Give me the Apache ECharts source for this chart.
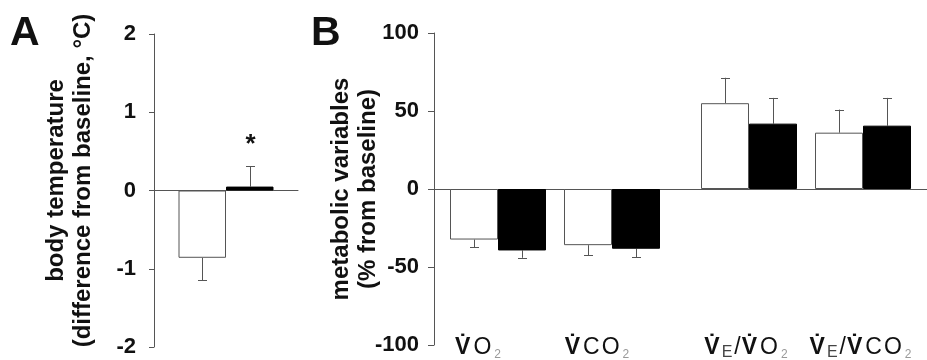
<!DOCTYPE html>
<html><head><meta charset="utf-8">
<script src="https://cdn.jsdelivr.net/npm/echarts@6/dist/echarts.min.js"></script>
<style>html,body{margin:0;padding:0;background:#fff}#c{width:927px;height:360px}</style>
</head><body><div id="c"></div>
<script>
// ---- Data ----
const tempCategories = ['body temperature'];
const tempWhite = [-0.86];
const tempWhiteErr = [0.29];
const tempBlack = [0.05];
const tempBlackErr = [0.26];
const tempSignif = ['*'];           // marker above black bar
const tempTicks = [-2, -1, 0, 1, 2];

const metabCategories = ['VO2', 'VCO2', 'VE/VO2', 'VE/VCO2'];
const metabWhite = [-32.4, -36.0, 55.0, 36.1];
const metabWhiteErr = [5.0, 6.6, 16.3, 14.8];
const metabBlack = [-39.4, -38.3, 41.9, 40.6];
const metabBlackErr = [4.7, 5.6, 16.5, 17.8];
const metabTicks = [-100, -50, 0, 50, 100];

// ---- Styles ----
const FONT = 'Liberation Sans, Arial, sans-serif';
const AX = '#555';
const TXT = '#111';

function richLabel(name) {
  let out = '';
  for (let k = 0; k < name.length; k++) {
    const ch = name[k];
    if (ch === 'V') out += '{v|V\u0307}';
    else if (ch === 'E') out += '{e|E}';
    else if (ch === '2') out += '{s|2}';
    else out += '{n|' + ch + '}';
  }
  return out;
}
const labelPad = { 'VO2': 40, 'VCO2': 30, 'VE/VO2': 6, 'VE/VCO2': 5 };

function errSeries(xIdx, yIdx, means, errs, offset, signif) {
  return {
    type: 'custom', xAxisIndex: xIdx, yAxisIndex: yIdx, z: 1, silent: true,
    data: means.map((m, i) => [i, m, errs[i]]),
    encode: { x: 0, y: 1 },
    renderItem: function (params, api) {
      const i = api.value(0), m = api.value(1), e = api.value(2);
      const dir = m < 0 ? -1 : 1;
      const p0 = api.coord([i, m]);
      const p1 = api.coord([i, m + dir * e]);
      const x = Math.round(p0[0] + offset) + 0.5;
      const cap = 4.5;
      const children = [
        { type: 'line', shape: { x1: x, y1: p0[1], x2: x, y2: p1[1] }, style: { stroke: AX, lineWidth: 1 } },
        { type: 'line', shape: { x1: x - cap, y1: Math.round(p1[1]) + 0.5, x2: x + cap, y2: Math.round(p1[1]) + 0.5 }, style: { stroke: AX, lineWidth: 1 } }
      ];
      if (signif && signif[i]) {
        children.push({ type: 'text', x: x, y: p1[1] - 21, style: { text: signif[i], font: 'bold 26px ' + FONT, fill: TXT, align: 'center', verticalAlign: 'middle' } });
      }
      return { type: 'group', children: children };
    }
  };
}

const yLabel = { fontFamily: FONT, fontWeight: 'bold', fontSize: 22, color: TXT };
const yName = { fontFamily: FONT, fontWeight: 'bold', fontSize: 24, color: TXT, lineHeight: 27 };

const chart = echarts.init(document.getElementById('c'), null, { renderer: 'canvas' });
const option = {
  animation: false,
  backgroundColor: '#fff',
  title: [
    { text: 'A', left: 5, top: 8, textStyle: { fontFamily: FONT, fontWeight: 'bold', fontSize: 41, color: TXT } },
    { text: 'B', left: 306, top: 8, textStyle: { fontFamily: FONT, fontWeight: 'bold', fontSize: 41, color: TXT } }
  ],
  grid: [
    { left: 154, width: 144, top: 34, height: 313, outerBoundsMode: 'none', containLabel: false },
    { left: 434, width: 493, top: 33, height: 312, outerBoundsMode: 'none', containLabel: false },
    { left: 441, width: 228, top: 33, height: 312, outerBoundsMode: 'none', containLabel: false },
    { left: 692, width: 228, top: 33, height: 312, outerBoundsMode: 'none', containLabel: false }
  ],
  xAxis: [
    { gridIndex: 0, type: 'category', data: tempCategories, axisLine: { show: true, lineStyle: { color: AX } }, axisTick: { show: false }, axisLabel: { show: false } },
    { gridIndex: 1, type: 'category', data: [''], axisLine: { show: true, lineStyle: { color: AX } }, axisTick: { show: false }, axisLabel: { show: false } },
    { gridIndex: 2, type: 'category', data: metabCategories.slice(0, 2), axisLine: { show: false, onZero: false }, axisTick: { show: false },
      axisLabel: { interval: 0, hideOverlap: false, margin: -10, formatter: v => richLabel(v) + '{p' + labelPad[v] + '|}', rich: {} } },
    { gridIndex: 3, type: 'category', data: metabCategories.slice(2), axisLine: { show: false, onZero: false }, axisTick: { show: false },
      axisLabel: { interval: 0, hideOverlap: false, margin: -10, formatter: v => richLabel(v) + '{p' + labelPad[v] + '|}', rich: {} } }
  ],
  yAxis: [
    { gridIndex: 0, type: 'value', min: tempTicks[0], max: tempTicks[tempTicks.length - 1], interval: 1,
      axisLine: { show: true, lineStyle: { color: AX } }, axisTick: { show: true, length: 5, lineStyle: { color: AX } },
      splitLine: { show: false }, axisLabel: Object.assign({ margin: 18 }, yLabel),
      name: 'body temperature\n(difference from baseline, °C)', nameLocation: 'middle', nameGap: 57, nameMoveOverlap: false,
      nameTextStyle: Object.assign({ padding: [0, 0, 0, 20] }, yName) },
    { gridIndex: 1, type: 'value', min: metabTicks[0], max: metabTicks[metabTicks.length - 1], interval: 50,
      axisLine: { show: true, lineStyle: { color: AX } }, axisTick: { show: true, length: 6, lineStyle: { color: AX } },
      splitLine: { show: false }, axisLabel: Object.assign({ margin: 15 }, yLabel),
      name: 'metabolic variables\n(% from baseline)', nameLocation: 'middle', nameGap: 52, nameMoveOverlap: false, nameTextStyle: yName },
    { gridIndex: 2, type: 'value', min: metabTicks[0], max: metabTicks[metabTicks.length - 1], show: false },
    { gridIndex: 3, type: 'value', min: metabTicks[0], max: metabTicks[metabTicks.length - 1], show: false }
  ],
  series: [
    { type: 'bar', name: 'white', xAxisIndex: 0, yAxisIndex: 0, data: tempWhite, barWidth: 47.5, barGap: '0%', z: 2,
      itemStyle: { color: '#fff', borderColor: AX, borderWidth: 1 } },
    { type: 'bar', name: 'black', xAxisIndex: 0, yAxisIndex: 0, data: tempBlack, barWidth: 47.5, barGap: '0%', z: 2,
      itemStyle: { color: '#000', borderColor: '#000', borderWidth: 1 } },
    errSeries(0, 0, tempWhite, tempWhiteErr, -23.75, null),
    errSeries(0, 0, tempBlack, tempBlackErr, 23.75, tempSignif),

    { type: 'bar', name: 'white', xAxisIndex: 2, yAxisIndex: 2, data: metabWhite.slice(0, 2), barWidth: 48, barGap: '0%', z: 2,
      itemStyle: { color: '#fff', borderColor: AX, borderWidth: 1 } },
    { type: 'bar', name: 'black', xAxisIndex: 2, yAxisIndex: 2, data: metabBlack.slice(0, 2), barWidth: 48, barGap: '0%', z: 2,
      itemStyle: { color: '#000', borderColor: '#000', borderWidth: 1 } },
    errSeries(2, 2, metabWhite.slice(0, 2), metabWhiteErr.slice(0, 2), -24, null),
    errSeries(2, 2, metabBlack.slice(0, 2), metabBlackErr.slice(0, 2), 24, null),

    { type: 'bar', name: 'white', xAxisIndex: 3, yAxisIndex: 3, data: metabWhite.slice(2), barWidth: 48, barGap: '0%', z: 2,
      itemStyle: { color: '#fff', borderColor: AX, borderWidth: 1 } },
    { type: 'bar', name: 'black', xAxisIndex: 3, yAxisIndex: 3, data: metabBlack.slice(2), barWidth: 48, barGap: '0%', z: 2,
      itemStyle: { color: '#000', borderColor: '#000', borderWidth: 1 } },
    errSeries(3, 3, metabWhite.slice(2), metabWhiteErr.slice(2), -24, null),
    errSeries(3, 3, metabBlack.slice(2), metabBlackErr.slice(2), 24, null)
  ]
};
const rich = {
  v: { fontFamily: FONT, fontSize: 23, fontWeight: 'bold', color: TXT, lineHeight: 26, padding: [0, 2, 0, 0] },
  n: { fontFamily: FONT, fontSize: 23, color: TXT, lineHeight: 26, padding: [0, 1, 0, 1] },
  e: { fontFamily: FONT, fontSize: 16, color: '#444', lineHeight: 22, verticalAlign: 'bottom', padding: [0, 1, 0, 0] },
  s: { fontFamily: FONT, fontSize: 12, color: '#999', lineHeight: 2, verticalAlign: 'bottom', padding: [0, 0, 0, 2] }
};
Object.keys(labelPad).forEach(k => { rich['p' + labelPad[k]] = { width: labelPad[k] }; });
option.xAxis[2].axisLabel.rich = rich;
option.xAxis[3].axisLabel.rich = rich;
chart.setOption(option);
</script></body></html>
